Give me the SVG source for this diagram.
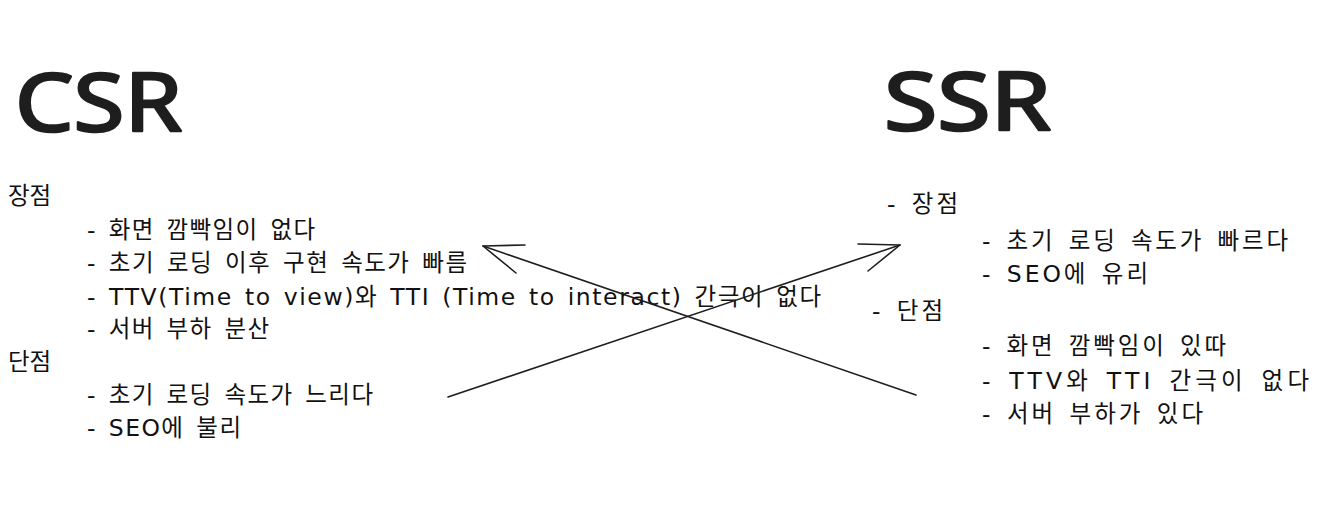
<svg xmlns="http://www.w3.org/2000/svg" width="1340" height="510" viewBox="0 0 1340 510">
<style>
.title{font-family:"Noto Sans","Liberation Sans","Noto Sans CJK KR",sans-serif;font-weight:normal;font-size:80px;fill:#1e1e1e;stroke:#1e1e1e;stroke-width:2.6;stroke-linejoin:round;stroke-linecap:round}
.t{font-family:"DejaVu Sans","Noto Sans CJK KR",sans-serif;font-size:23.5px;fill:#111111;word-spacing:3px}
.edge{fill:none;stroke:#1e1e1e;stroke-width:1.6;stroke-linecap:round;stroke-linejoin:round}
</style>
<rect width="1340" height="510" fill="#ffffff"/>
<g id="csr">
<text class="title" x="15" y="131" textLength="167" lengthAdjust="spacingAndGlyphs">CSR</text>
<text class="t" x="8" y="204" textLength="43" lengthAdjust="spacing">장점</text>
<text class="t" x="87" y="238" textLength="228" lengthAdjust="spacing">- 화면 깜빡임이 없다</text>
<text class="t" x="87" y="271" textLength="380" lengthAdjust="spacing">- 초기 로딩 이후 구현 속도가 빠름</text>
<text class="t" x="87" y="305" textLength="734" lengthAdjust="spacing">- TTV(Time to view)와 TTI (Time to interact) 간극이 없다</text>
<text class="t" x="87" y="337" textLength="182" lengthAdjust="spacing">- 서버 부하 분산</text>
<text class="t" x="8" y="370" textLength="43" lengthAdjust="spacing">단점</text>
<text class="t" x="87" y="403" textLength="286" lengthAdjust="spacing">- 초기 로딩 속도가 느리다</text>
<text class="t" x="87" y="436" textLength="154" lengthAdjust="spacing">- SEO에 불리</text>
</g>
<g id="ssr">
<text class="title" x="884" y="130" textLength="167" lengthAdjust="spacingAndGlyphs">SSR</text>
<text class="t" x="887" y="212" textLength="71" lengthAdjust="spacing">- 장점</text>
<text class="t" x="982" y="249" textLength="306" lengthAdjust="spacing">- 초기 로딩 속도가 빠르다</text>
<text class="t" x="982" y="282" textLength="166" lengthAdjust="spacing">- SEO에 유리</text>
<text class="t" x="872" y="319" textLength="71" lengthAdjust="spacing">- 단점</text>
<text class="t" x="982" y="354" textLength="244" lengthAdjust="spacing">- 화면 깜빡임이 있따</text>
<text class="t" x="982" y="389" textLength="327" lengthAdjust="spacing">- TTV와 TTI 간극이 없다</text>
<text class="t" x="982" y="422" textLength="221" lengthAdjust="spacing">- 서버 부하가 있다</text>
</g>
<g id="connectors">
<path class="edge" d="M448 397 L900 245"/>
<path class="edge" d="M858 244 L900 245 L868 271"/>
<path class="edge" d="M916 395 L483 246"/>
<path class="edge" d="M525 245 L483 246 L516 273"/>
</g>
</svg>
